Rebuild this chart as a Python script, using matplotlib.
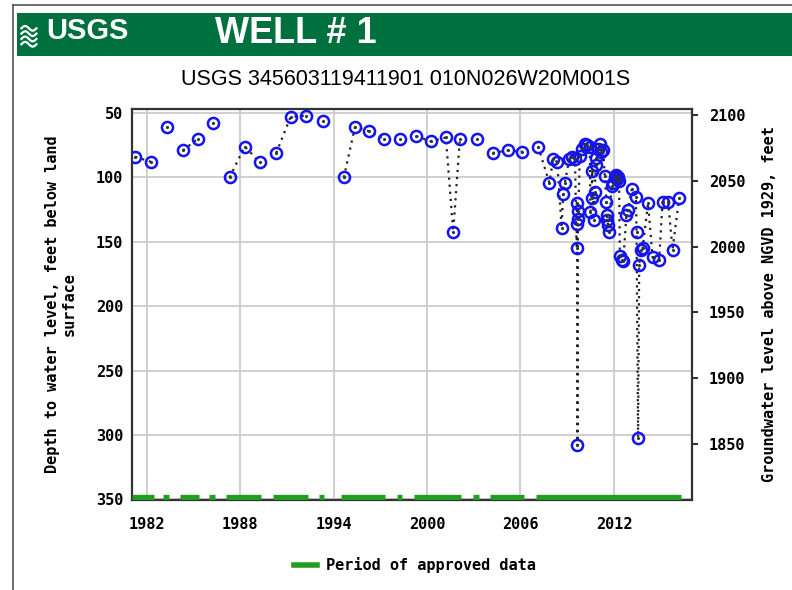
import numpy as np
import matplotlib
matplotlib.use('Agg')
import matplotlib.pyplot as plt
from matplotlib.lines import Line2D
from matplotlib.patches import Rectangle

# measurement dates (decimal year) and depth to water (ft below land surface)
dates = [
    1981.27, 1982.30, 1983.30, 1984.33, 1985.29, 1986.27, 1987.33, 1988.29,
    1989.25, 1990.32, 1991.24, 1992.25, 1993.32, 1994.66, 1995.37, 1996.25,
    1997.23, 1998.24, 1999.31, 2000.25, 2001.21, 2001.68, 2002.11, 2003.18,
    2004.21, 2005.21, 2006.11, 2007.13, 2007.85, 2008.10, 2008.36, 2008.64,
    2008.74, 2008.85, 2009.13, 2009.28, 2009.50, 2009.60, 2009.62, 2009.64,
    2009.66, 2009.68, 2009.70, 2009.81, 2009.95, 2010.13, 2010.30, 2010.45,
    2010.49, 2010.56, 2010.60, 2010.70, 2010.77, 2010.84, 2010.88, 2011.00,
    2011.09, 2011.20, 2011.31, 2011.41, 2011.52, 2011.55, 2011.58, 2011.62,
    2011.67, 2011.85, 2011.95, 2012.06, 2012.15, 2012.21, 2012.27, 2012.33,
    2012.38, 2012.50, 2012.60, 2012.80, 2012.91, 2013.15, 2013.41, 2013.45,
    2013.55, 2013.62, 2013.75, 2013.84, 2014.19, 2014.48, 2014.90, 2015.12,
    2015.48, 2015.76, 2016.19,
]
depths = [
    84, 88, 61, 79, 70, 58, 100, 76,
    88, 81, 53, 52, 56, 100, 61, 64,
    70, 70, 68, 72, 69, 142, 70, 70,
    81, 79, 80, 76, 104, 86, 88, 139,
    113, 104, 86, 84, 86, 155, 120, 136,
    308, 126, 132, 83, 78, 74, 75, 76,
    127, 116, 95, 133, 111, 90, 85, 78,
    74, 80, 79, 99, 119, 129, 133, 137,
    142, 107, 104, 100, 98, 101, 100, 103,
    161, 164, 165, 129, 125, 109, 115, 142,
    302, 168, 156, 155, 120, 162, 164, 119,
    119, 156, 116,
]

# periods of approved data (decimal year)
approved_start = [1981.09, 1983.05, 1984.16, 1986.00, 1987.11, 1990.10, 1993.08,
                  1994.48, 1998.04, 1999.14, 2002.95, 2004.06, 2007.00]
approved_end = [1982.44, 1983.42, 1985.39, 1986.37, 1989.32, 1992.34, 1993.37,
                1997.30, 1998.41, 2002.21, 2003.32, 2006.22, 2016.30]

year_ticks = [1982, 1988, 1994, 2000, 2006, 2012]
depth_ticks = [50, 100, 150, 200, 250, 300, 350]
elev_ticks = [1850, 1900, 1950, 2000, 2050, 2100]

MONO = 'DejaVu Sans Mono'
GREEN_BANNER = '#00703e'
GREEN_BAR = '#1f9e1f'
BLUE = '#1414ee'
FS = 11

fig = plt.figure(figsize=(7.92, 5.90), dpi=100)

# screenshot frame
fig.add_artist(Line2D([0.0164, 0.0164], [0.0, 0.9915], color='#555555', lw=1.2))
fig.add_artist(Line2D([0.0164, 1.0], [0.9915, 0.9915], color='#555555', lw=1.2))

# header banner
fig.add_artist(Rectangle((0.022, 0.905), 0.98, 0.0735, transform=fig.transFigure,
                         facecolor=GREEN_BANNER, edgecolor='none'))
# little wave logo
t = np.linspace(0, 1, 30)
for k in range(4):
    yy = 0.925 + k * 0.009 + 0.004 * np.sin(t * 2 * np.pi)
    fig.add_artist(Line2D(0.027 + t * 0.019, yy, color='white', lw=1.6))
fig.text(0.058, 0.9475, 'USGS', color='white', fontsize=21, fontweight='bold',
         family='Liberation Sans', va='center', ha='left')
fig.text(0.272, 0.943, 'WELL # 1', color='white', fontsize=26, fontweight='bold',
         family='Liberation Sans', va='center', ha='left')
fig.text(0.512, 0.866, 'USGS 345603119411901 010N026W20M001S', fontsize=15.5,
         family='Liberation Sans', ha='center', va='center')

ax = fig.add_axes([0.1663, 0.1525, 0.708, 0.6627])

# connect points within the same approved period
d = np.array(dates)
v = np.array(depths)
for s, e in zip(approved_start, approved_end):
    m = (d >= s) & (d <= e)
    if m.sum() > 1:
        ax.plot(d[m], v[m], color='#222222', lw=1.6, ls=(0, (1, 2.2)), zorder=3)

ax.plot(d, v, 'o', ms=8, mfc='none', mec=BLUE, mew=1.8, zorder=4)
ax.plot(d, v, '.', ms=2.5, color='#333333', zorder=5)

ax.hlines([348.2] * len(approved_start), approved_start, approved_end,
          color=GREEN_BAR, lw=3.8, zorder=4)

ax.set_xlim(1981.04, 2017.04)
ax.set_ylim(350.5, 46.9)
ax.set_xticks(year_ticks)
ax.set_yticks(depth_ticks)
ax.grid(True, color='#cccccc', lw=1.3)
ax.set_axisbelow(True)
ax.tick_params(axis='y', length=0, labelsize=FS, pad=6)
ax.tick_params(axis='x', length=0, labelsize=FS, pad=12)
for lab in ax.get_xticklabels() + ax.get_yticklabels():
    lab.set_family(MONO)
    lab.set_fontweight('bold')
for sp in ax.spines.values():
    sp.set_color('#333333')
    sp.set_linewidth(1.6)
ax.set_ylabel('Depth to water level, feet below land\nsurface', family=MONO,
              fontweight='bold', fontsize=FS, labelpad=14, linespacing=1.15)

ax2 = ax.twinx()
ax2.set_ylim(1807.4, 2104.6)
ax2.set_yticks(elev_ticks)
ax2.tick_params(length=4, width=1.5, direction='out', labelsize=FS, pad=8, color='#333333')
for lab in ax2.get_yticklabels():
    lab.set_family(MONO)
    lab.set_fontweight('bold')
for sp in ax2.spines.values():
    sp.set_visible(False)
ax2.set_ylabel('Groundwater level above NGVD 1929, feet', family=MONO,
               fontweight='bold', fontsize=FS, labelpad=12)

handle = Line2D([], [], color=GREEN_BAR, lw=4)
fig.legend([handle], ['Period of approved data'], loc='center',
           bbox_to_anchor=(0.524, 0.042), frameon=False, handlelength=1.5,
           handletextpad=0.6, prop={'family': MONO, 'weight': 'bold', 'size': FS})

fig.savefig('out.png', dpi=100)
